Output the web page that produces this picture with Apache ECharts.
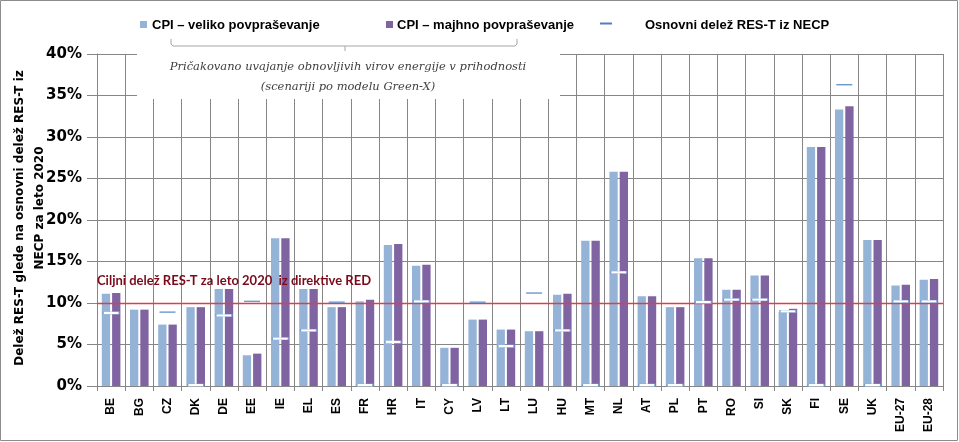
<!DOCTYPE html>
<html>
<head>
<meta charset="utf-8">
<script src="https://cdn.jsdelivr.net/npm/echarts@6/dist/echarts.min.js"></script>
<style>html,body{margin:0;padding:0;background:#fff;}#c{width:959px;height:442px;}</style>
</head>
<body>
<div id="c"></div>
<script>
const categories = ['BE','BG','CZ','DK','DE','EE','IE','EL','ES','FR','HR','IT','CY','LV','LT','LU','HU','MT','NL','AT','PL','PT','RO','SI','SK','FI','SE','UK','EU-27','EU-28'];
const cpiHigh = [11.1, 9.2, 7.4, 9.5, 11.7, 3.7, 17.8, 11.7, 9.5, 10.2, 17.0, 14.5, 4.6, 8.0, 6.8, 6.6, 11.0, 17.5, 25.8, 10.8, 9.5, 15.4, 11.6, 13.3, 8.9, 28.8, 33.3, 17.6, 12.1, 12.8];
const cpiLow  = [11.2, 9.2, 7.4, 9.5, 11.7, 3.9, 17.8, 11.7, 9.5, 10.4, 17.1, 14.6, 4.6, 8.0, 6.8, 6.6, 11.1, 17.5, 25.8, 10.8, 9.5, 15.4, 11.6, 13.3, 9.3, 28.8, 33.7, 17.6, 12.2, 12.9];
const necpBase = [8.8, null, 8.9, 0.1, 8.5, 10.2, 5.7, 6.7, 10.1, 0.1, 5.3, 10.2, 0.1, 10.1, 4.8, 11.2, 6.7, 0.1, 13.7, 0.1, 0.1, 10.1, 10.4, 10.4, 9.0, 0.1, 36.3, 0.1, 10.2, 10.2];
const redTarget = 10;
const yTicks = {min: 0, max: 40, interval: 5};
const seriesNames = ['CPI – veliko povpraševanje', 'CPI – majhno povpraševanje', 'Osnovni delež RES-T iz NECP'];
const targetLabel = 'Ciljni delež RES-T za leto 2020  iz direktive RED';
const noteLines = ['Pričakovano uvajanje obnovljivih virov energije v prihodnosti', '(scenariji po modelu Green-X)'];
const yTitleLines = ['Delež RES-T glede na osnovni delež RES-T iz', 'NECP za leto 2020'];

// markers sitting above both bars are seen as a thin blue dash; on a bar they are white with a blue edge
const necpData = necpBase.map(function (v, i) {
  if (v === null) return null;
  const above = v > Math.max(cpiHigh[i], cpiLow[i]);
  return above
    ? {value: v, symbolSize: [16, 1.4], itemStyle: {color: '#6d97cf', borderWidth: 0}}
    : {value: v};
});

const chart = echarts.init(document.getElementById('c'));
const legendFont = 'bold 13px "Liberation Sans", Arial, sans-serif';
const titleFont = 'bold 12px "DejaVu Sans", sans-serif';
const noteFont = 'italic 11.5px "DejaVu Serif", serif';
chart.setOption({
  animation: false,
  backgroundColor: '#fff',
  grid: {left: 97, right: 16, top: 54, bottom: 56},
  xAxis: {
    type: 'category',
    data: categories,
    boundaryGap: true,
    axisLine: {show: true, lineStyle: {color: '#868686', width: 1}},
    axisTick: {show: true, length: 5, interval: 0, lineStyle: {color: '#868686'}},
    splitLine: {show: true, interval: 0, lineStyle: {color: '#868686', width: 1}},
    axisLabel: {interval: 0, rotate: 90, margin: 12, color: '#000', fontSize: 12, fontWeight: 'bold', fontFamily: '"Liberation Sans", Arial, sans-serif'}
  },
  yAxis: {
    type: 'value',
    min: yTicks.min, max: yTicks.max, interval: yTicks.interval,
    axisLine: {show: true, lineStyle: {color: '#868686'}},
    axisTick: {show: true, length: 10, lineStyle: {color: '#868686'}},
    splitLine: {show: true, lineStyle: {color: '#868686', width: 1}},
    axisLabel: {formatter: '{value}%', margin: 15, color: '#000', fontSize: 15, fontWeight: 'bold', fontFamily: '"DejaVu Sans", sans-serif'}
  },
  series: [
    {name: seriesNames[0], type: 'bar', data: cpiHigh, barWidth: 8.3, barGap: '24%', itemStyle: {color: '#95b3d7'}, z: 2},
    {name: seriesNames[1], type: 'bar', data: cpiLow, barWidth: 8.3, barGap: '24%', itemStyle: {color: '#8064a2'}, z: 2,
      markLine: {silent: true, symbol: 'none', label: {show: false},
        lineStyle: {color: '#e03c4c', width: 1.3, type: 'solid'},
        data: [{yAxis: redTarget}]}},
    {name: seriesNames[2], type: 'scatter', data: necpData, symbol: 'rect', symbolSize: [16, 2.5],
      itemStyle: {color: '#ffffff', borderColor: '#6f9fd8', borderWidth: 0.5, opacity: 1}, z: 5}
  ],
  graphic: [
    {type: 'rect', z: 0, shape: {x: 0.5, y: 0.5, width: 957, height: 440}, style: {fill: 'none', stroke: '#8c8c8c', lineWidth: 1}},
    {type: 'rect', z: 10, shape: {x: 137, y: 47, width: 423, height: 52}, style: {fill: '#ffffff'}},
    {type: 'polyline', z: 11, shape: {points: [[171, 39], [171, 44], [173, 46], [515, 46], [517, 44], [517, 39]]}, style: {fill: 'none', stroke: '#a6a6a6', lineWidth: 1}},
    {type: 'line', z: 11, shape: {x1: 345, y1: 46, x2: 345, y2: 51}, style: {stroke: '#a6a6a6', lineWidth: 1}},
    {type: 'text', z: 11, x: 348, y: 67, style: {text: noteLines[0], textAlign: 'center', textVerticalAlign: 'middle', fill: '#3f3f3f', font: noteFont}},
    {type: 'text', z: 11, x: 348, y: 87, style: {text: noteLines[1], textAlign: 'center', textVerticalAlign: 'middle', fill: '#3f3f3f', font: noteFont}},
    {type: 'rect', z: 11, shape: {x: 140, y: 21, width: 7, height: 7}, style: {fill: '#95b3d7'}},
    {type: 'text', z: 11, x: 152, y: 25, style: {text: seriesNames[0], textVerticalAlign: 'middle', fill: '#000', font: legendFont}},
    {type: 'rect', z: 11, shape: {x: 386, y: 21, width: 7, height: 7}, style: {fill: '#8064a2'}},
    {type: 'text', z: 11, x: 397, y: 25, style: {text: seriesNames[1], textVerticalAlign: 'middle', fill: '#000', font: legendFont}},
    {type: 'line', z: 11, shape: {x1: 600, y1: 23.5, x2: 612, y2: 23.5}, style: {stroke: '#4f81bd', lineWidth: 2}},
    {type: 'text', z: 11, x: 645, y: 25, style: {text: seriesNames[2], textVerticalAlign: 'middle', fill: '#000', font: legendFont}},
    {type: 'text', z: 11, x: 97, y: 281, style: {text: targetLabel, textVerticalAlign: 'middle', fill: '#7a0a1a', font: 'bold 13px Lato, sans-serif'}},
    {type: 'text', z: 11, x: 20, y: 218, rotation: Math.PI / 2, style: {text: yTitleLines[0], textAlign: 'center', textVerticalAlign: 'middle', fill: '#000', font: titleFont}},
    {type: 'text', z: 11, x: 40, y: 208, rotation: Math.PI / 2, style: {text: yTitleLines[1], textAlign: 'center', textVerticalAlign: 'middle', fill: '#000', font: titleFont}}
  ]
});
</script>
</body>
</html>
